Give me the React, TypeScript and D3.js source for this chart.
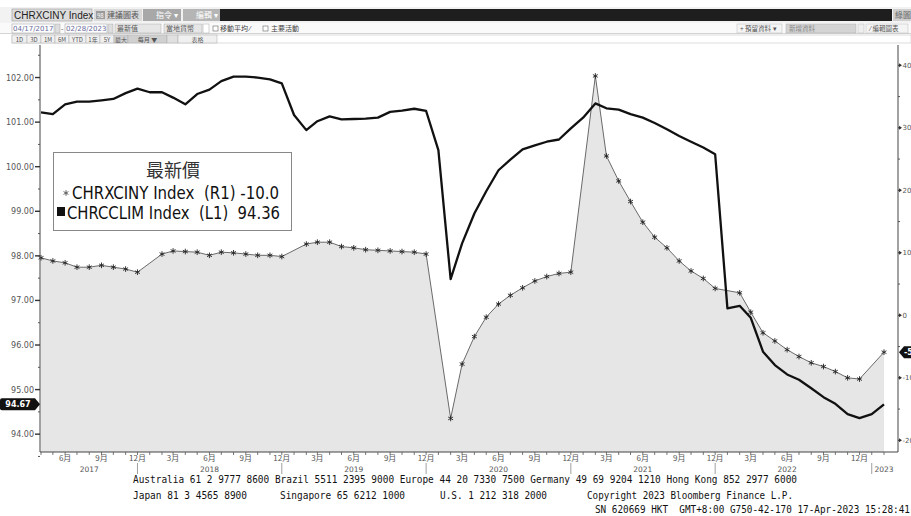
import React from "react";
import * as d3 from "d3";

// ---------- DATA ----------
const MONTHS: string[] = [
  "2017-04","2017-05","2017-06","2017-07","2017-08","2017-09","2017-10","2017-11","2017-12",
  "2018-01","2018-02","2018-03","2018-04","2018-05","2018-06","2018-07","2018-08","2018-09","2018-10","2018-11","2018-12",
  "2019-01","2019-02","2019-03","2019-04","2019-05","2019-06","2019-07","2019-08","2019-09","2019-10","2019-11","2019-12",
  "2020-01","2020-02","2020-03","2020-04","2020-05","2020-06","2020-07","2020-08","2020-09","2020-10","2020-11","2020-12",
  "2021-01","2021-02","2021-03","2021-04","2021-05","2021-06","2021-07","2021-08","2021-09","2021-10","2021-11","2021-12",
  "2022-01","2022-02","2022-03","2022-04","2022-05","2022-06","2022-07","2022-08","2022-09","2022-10","2022-11","2022-12",
  "2023-01","2023-02",
];

// CHRCCLIM Index (L1, left axis) – thick black line
const CHRCCLIM: number[] = [
  101.22, 101.18, 101.40, 101.46, 101.46, 101.49, 101.52, 101.65, 101.75,
  101.67, 101.67, 101.55, 101.40, 101.63, 101.73, 101.92, 102.02, 102.02, 102.00, 101.96, 101.87,
  101.16, 100.82, 101.02, 101.13, 101.06, 101.07, 101.08, 101.10, 101.23, 101.26, 101.30, 101.25,
  100.37, 97.48, 98.28, 98.95, 99.45, 99.92, 100.16, 100.39, 100.48, 100.56, 100.61, 100.86,
  101.10, 101.42, 101.31, 101.28, 101.18, 101.10, 100.98, 100.84, 100.69, 100.56, 100.43, 100.28,
  96.82, 96.88, 96.61, 95.85, 95.55, 95.34, 95.22, 95.03, 94.83, 94.68, 94.45, 94.36,
  94.45, 94.67,
];

// CHRXCINY Index (R1, right axis) – grey area with asterisks (January not published)
const CHRXCINY: (number | null)[] = [
  9.2, 8.7, 8.4, 7.7, 7.7, 8.0, 7.7, 7.4, 6.9,
  null, 9.8, 10.3, 10.2, 10.1, 9.6, 10.1, 10.0, 9.8, 9.6, 9.6, 9.4,
  null, 11.4, 11.7, 11.7, 11.0, 10.8, 10.5, 10.4, 10.3, 10.2, 10.1, 9.8,
  null, -16.5, -7.8, -3.4, -0.3, 1.8, 3.2, 4.4, 5.5, 6.2, 6.7, 6.9,
  null, 38.3, 25.5, 21.5, 18.2, 14.9, 12.5, 10.8, 8.7, 7.1, 5.9, 4.3,
  null, 3.6, 0.5, -2.8, -4.1, -5.5, -6.6, -7.6, -8.2, -9.0, -10.0, -10.2,
  null, -5.9,
];

const LEFT_TICKS: number[] = [94, 95, 96, 97, 98, 99, 100, 101, 102];
const RIGHT_TICKS: number[] = [-20, -10, 0, 10, 20, 30, 40];
const MONTH_TICKS: string[] = [
  "2017-06","2017-09","2017-12","2018-03","2018-06","2018-09","2018-12",
  "2019-03","2019-06","2019-09","2019-12","2020-03","2020-06","2020-09","2020-12",
  "2021-03","2021-06","2021-09","2021-12","2022-03","2022-06","2022-09","2022-12",
];
const YEAR_LABELS: string[] = ["2017", "2018", "2019", "2020", "2021", "2022", "2023"];
const YEAR_LABEL_MONTHS: string[] = ["2017-08", "2018-06", "2019-06", "2020-06", "2021-06", "2022-06", "2023-02"];
const YEAR_SEPARATORS: string[] = ["2017-12", "2018-12", "2019-12", "2020-12", "2021-12", "2023-01"];

const LEGEND_TITLE = "最新價";
const LEGEND_R1 = "CHRXCINY Index  (R1) -10.0";
const LEGEND_L1 = "CHRCCLIM Index  (L1)  94.36";
const LAST_L1 = "94.67";
const LAST_R1 = "-5.9";

const FOOTER1 = "Australia 61 2 9777 8600 Brazil 5511 2395 9000 Europe 44 20 7330 7500 Germany 49 69 9204 1210 Hong Kong 852 2977 6000";
const FOOTER2 = ["Japan 81 3 4565 8900", "Singapore 65 6212 1000", "U.S. 1 212 318 2000", "Copyright 2023 Bloomberg Finance L.P."];
const FOOTER3 = "SN 620669 HKT  GMT+8:00 G750-42-170 17-Apr-2023 15:28:41";

// ---------- LAYOUT ----------
const W = 911, H = 516;
const PL = 40, PR = 898, PT = 45, PB = 452;

const parse = d3.timeParse("%Y-%m");

export default function App() {
  const dates = MONTHS.map((m) => parse(m) as Date);
  const x = d3.scaleTime().domain([dates[0], dates[dates.length - 1]]).range([41, 884]);
  const yL = d3.scaleLinear().domain([93.6, 102.73]).range([PB, PT]);
  const yR = d3.scaleLinear().domain([-21.87, 43.25]).range([PB, PT]);

  const l1 = dates.map((d, i) => ({ d, v: CHRCCLIM[i] }));
  const r1 = dates
    .map((d, i) => ({ d, v: CHRXCINY[i] }))
    .filter((p) => p.v !== null) as { d: Date; v: number }[];

  const lineL = d3.line<{ d: Date; v: number }>().x((p) => x(p.d)).y((p) => yL(p.v))(l1) || "";
  const lineR = d3.line<{ d: Date; v: number }>().x((p) => x(p.d)).y((p) => yR(p.v))(r1) || "";
  const areaR = d3.area<{ d: Date; v: number }>().x((p) => x(p.d)).y0(PB).y1((p) => yR(p.v))(r1) || "";
  const star = d3.symbol().type(d3.symbolAsterisk).size(22)() || "";

  const leftMinor = d3.range(93.5, 102.8, 0.5).filter((v) => v % 1 !== 0 && yL(v) >= PT);
  const rightMinor = d3.range(-15, 41, 10);

  const axisFont = "DejaVu Sans, sans-serif";
  const cjk = "'Noto Sans CJK TC', 'Noto Sans CJK SC', sans-serif";

  const lastL = yL(parseFloat(LAST_L1));
  const lastR = yR(parseFloat(LAST_R1));

  return (
    <svg width={W} height={H} style={{ position: "absolute", left: 0, top: 0, background: "#fff" }}>
      <rect x={0} y={0} width={W} height={H} fill="#fff" />

      {/* ---------- toolbar ---------- */}
      <g fontFamily={cjk} fontSize={8}>
        <rect x={0} y={7} width={W} height={16} fill="#f2f2f2" />
        <rect x={12} y={9} width={80} height={12} fill="#dcdcdc" stroke="#999" strokeWidth={0.6} />
        <text x={14} y={19} fontFamily="Liberation Sans, Arial, sans-serif" fontSize={10} fill="#222">CHRXCINY Index</text>
        <rect x={94} y={9} width={48} height={12} fill="#d9d9d9" />
        <rect x={96} y={11} width={9} height={8} fill="#9a9a9a" />
        <text x={97} y={18} fontSize={6} fill="#fff">98</text>
        <text x={107} y={18} fill="#555">建議圖表</text>
        <rect x={143} y={9} width={38} height={12} fill="#a8a8a8" />
        <text x={156} y={18} fill="#fff">指令 ▾</text>
        <rect x={183} y={9} width={37} height={12} fill="#b5b5b5" />
        <text x={196} y={18} fill="#fff">編輯 ▾</text>
        <rect x={220} y={9} width={672} height={12} fill="#1e1e1e" />
        <rect x={893} y={9} width={18} height={12} fill="#cfcfcf" />
        <text x={895} y={18} fill="#666">綠圖</text>

        <rect x={0} y={23} width={W} height={11} fill="#fafafa" />
        <line x1={0} y1={33.5} x2={W} y2={33.5} stroke="#bbb" strokeWidth={0.6} />
        <rect x={12} y={24} width={42} height={9} fill="#fff" stroke="#aaa" strokeWidth={0.6} />
        <text x={13} y={31} fontFamily={axisFont} fontSize={7} fill="#6a6a9a">04/17/2017</text>
        <rect x={55} y={24} width={5} height={9} fill="#ddd" stroke="#aaa" strokeWidth={0.5} />
        <text x={61} y={31} fontSize={7} fill="#444">-</text>
        <rect x={65} y={24} width={42} height={9} fill="#fff" stroke="#aaa" strokeWidth={0.6} />
        <text x={66} y={31} fontFamily={axisFont} fontSize={7} fill="#6a6a9a">02/28/2023</text>
        <rect x={108} y={24} width={5} height={9} fill="#ddd" stroke="#aaa" strokeWidth={0.5} />
        <rect x={115} y={24} width={46} height={9} fill="#e6e6e6" stroke="#aaa" strokeWidth={0.5} />
        <text x={117} y={31} fontSize={7} fill="#555">最新值</text>
        <rect x={164} y={24} width={38} height={9} fill="#e6e6e6" stroke="#aaa" strokeWidth={0.5} />
        <text x={166} y={31} fontSize={7} fill="#555">當地貨幣</text>
        <rect x={203} y={24} width={6} height={9} fill="#fff" stroke="#aaa" strokeWidth={0.5} />
        <rect x={213} y={26} width={5} height={5} fill="#fff" stroke="#666" strokeWidth={0.6} />
        <text x={220} y={31} fontSize={7} fill="#444">移動平均 ⁄</text>
        <rect x={263} y={26} width={5} height={5} fill="#fff" stroke="#666" strokeWidth={0.6} />
        <text x={271} y={31} fontSize={7} fill="#444">主要活動</text>
        <rect x={737} y={24} width={45} height={9} fill="#f4f4f4" stroke="#bbb" strokeWidth={0.5} />
        <text x={740} y={31} fontSize={6.5} fill="#555">+ 預留資料 ▾</text>
        <rect x={786} y={24} width={70} height={9} fill="#d4d4d4" stroke="#aaa" strokeWidth={0.5} />
        <text x={789} y={31} fontSize={6.5} fill="#888">新增資料</text>
        <rect x={858} y={24} width={6} height={9} fill="#eee" stroke="#bbb" strokeWidth={0.5} />
        <rect x={866} y={24} width={42} height={9} fill="#f4f4f4" stroke="#bbb" strokeWidth={0.5} />
        <text x={870} y={31} fontSize={6.5} fill="#555">⁄ 編輯圖表</text>

        <rect x={12} y={35} width={899} height={8} fill="#fff" stroke="#bbb" strokeWidth={0.5} />
        {["1D", "3D", "1M", "6M", "YTD", "1年", "5Y", "最大", "每月 ▼", "", "表格"].map((t, i) => {
          const xs = [12, 27, 41, 55, 69, 86, 100, 114, 128, 167, 178];
          const ws = [15, 14, 14, 14, 17, 14, 14, 14, 39, 11, 39];
          const fill = i === 7 || i === 8 ? "#d0d0d0" : i === 9 ? "#e0e0e0" : "#f0f0f0";
          return (
            <g key={i}>
              <rect x={xs[i]} y={35} width={ws[i]} height={8} fill={fill} stroke="#aaa" strokeWidth={0.5} />
              <text x={xs[i] + ws[i] / 2} y={41.5} fontSize={6} textAnchor="middle" fill="#555">{t}</text>
            </g>
          );
        })}
      </g>

      {/* ---------- plot ---------- */}
      <path d={areaR} fill="#e6e6e6" />
      <path d={lineR} fill="none" stroke="#6a6a6a" strokeWidth={1} />
      {r1.map((p, i) => (
        <path key={i} d={star} transform={`translate(${x(p.d)},${yR(p.v)})`} fill="none" stroke="#222" strokeWidth={0.9} />
      ))}
      <path d={lineL} fill="none" stroke="#111" strokeWidth={2.3} strokeLinejoin="round" />

      {/* axes lines */}
      <line x1={PL} y1={PT} x2={PL} y2={PB} stroke="#444" strokeWidth={1} />
      <line x1={PR} y1={PT} x2={PR} y2={PB} stroke="#444" strokeWidth={1} />
      <line x1={PL} y1={PB} x2={PR} y2={PB} stroke="#444" strokeWidth={1} />

      {/* left axis */}
      <g fontFamily={axisFont} fontSize={8} fill="#555">
        {LEFT_TICKS.map((v) => (
          <g key={v}>
            <line x1={PL - 5} x2={PL} y1={yL(v)} y2={yL(v)} stroke="#333" strokeWidth={1.4} />
            <text x={PL - 6} y={yL(v) + 3} textAnchor="end">{v.toFixed(2)}</text>
          </g>
        ))}
        {leftMinor.map((v) => (
          <line key={v} x1={PL - 2} x2={PL} y1={yL(v)} y2={yL(v)} stroke="#555" />
        ))}
      </g>

      {/* right axis */}
      <g fontFamily={axisFont} fontSize={7} fill="#555">
        {RIGHT_TICKS.map((v) => (
          <g key={v}>
            <path d={`M${PR + 1},${yR(v) - 2}L${PR + 4},${yR(v)}L${PR + 1},${yR(v) + 2}Z`} fill="#333" />
            <line x1={PR} x2={PR + 3} y1={yR(v)} y2={yR(v)} stroke="#333" />
            <text x={PR + 4.5} y={yR(v) + 2.5}>{v}</text>
          </g>
        ))}
        {rightMinor.map((v) => (
          <line key={v} x1={PR} x2={PR + 2} y1={yR(v)} y2={yR(v)} stroke="#555" />
        ))}
      </g>

      {/* bottom axis */}
      <g fontFamily={cjk} fontSize={8} fill="#555">
        {dates.map((d, i) => (
          <line key={i} x1={x(d)} x2={x(d)} y1={PB} y2={PB + 3} stroke="#555" strokeWidth={0.8} />
        ))}
        {MONTH_TICKS.map((m) => {
          const d = parse(m) as Date;
          return (
            <text key={m} x={x(d)} y={461} textAnchor="middle">{`${d.getMonth() + 1}月`}</text>
          );
        })}
        {YEAR_SEPARATORS.map((m) => {
          const d = parse(m) as Date;
          return <line key={m} x1={x(d)} x2={x(d)} y1={463} y2={474} stroke="#888" strokeWidth={0.8} />;
        })}
        {YEAR_LABELS.map((yv, i) => (
          <text key={yv} x={x(parse(YEAR_LABEL_MONTHS[i]) as Date)} y={472} textAnchor="middle" fontFamily={axisFont} fontSize={7.5}>{yv}</text>
        ))}
      </g>

      {/* last value tags */}
      <path d={`M2,${lastL - 6}L35,${lastL - 6}L40,${lastL}L35,${lastL + 6}L2,${lastL + 6}Q0,${lastL + 6} 0,${lastL + 4}L0,${lastL - 4}Q0,${lastL - 6} 2,${lastL - 6}Z`} fill="#111" />
      <text x={18} y={lastL + 3} textAnchor="middle" fontFamily={axisFont} fontSize={8} fontWeight="bold" fill="#fff">{LAST_L1}</text>
      <path d={`M${PR + 1},${lastR}L${PR + 6},${lastR - 6}L${W + 2},${lastR - 6}L${W + 2},${lastR + 6}L${PR + 6},${lastR + 6}Z`} fill="#111" />
      <text x={PR + 6} y={lastR + 3} fontFamily={axisFont} fontSize={8} fontWeight="bold" fill="#fff">{LAST_R1}</text>

      {/* legend */}
      <g>
        <rect x={53.5} y={152.5} width={238} height={78} fill="#fff" stroke="#888" strokeWidth={1} />
        <text x={173} y={177} textAnchor="middle" fontFamily={cjk} fontSize={18} fill="#333">{LEGEND_TITLE}</text>
        <g fontFamily="'Liberation Sans Narrow', 'DejaVu Sans Condensed', 'Liberation Sans', Arial, sans-serif" fontSize={17} fill="#111">
          <path d={star} transform="translate(66,193)" fill="none" stroke="#555" strokeWidth={0.9} />
          <text x={72} y={199} textLength={207} lengthAdjust="spacingAndGlyphs" xmlSpace="preserve">{LEGEND_R1}</text>
          <rect x={57} y={207} width={8} height={9} fill="#111" />
          <text x={67} y={219} textLength={213} lengthAdjust="spacingAndGlyphs" xmlSpace="preserve">{LEGEND_L1}</text>
        </g>
      </g>

      {/* footer */}
      <g fontFamily="'DejaVu Sans Mono', 'Liberation Mono', monospace" fontSize={11} fill="#111">
        <text x={133} y={483} textLength={664} lengthAdjust="spacingAndGlyphs">{FOOTER1}</text>
        <text x={133} y={499} textLength={114} lengthAdjust="spacingAndGlyphs">{FOOTER2[0]}</text>
        <text x={280} y={499} textLength={125} lengthAdjust="spacingAndGlyphs">{FOOTER2[1]}</text>
        <text x={440} y={499} textLength={107} lengthAdjust="spacingAndGlyphs">{FOOTER2[2]}</text>
        <text x={587} y={499} textLength={206} lengthAdjust="spacingAndGlyphs">{FOOTER2[3]}</text>
        <text x={595} y={513} textLength={315} lengthAdjust="spacingAndGlyphs" xmlSpace="preserve">{FOOTER3}</text>
      </g>
    </svg>
  );
}
